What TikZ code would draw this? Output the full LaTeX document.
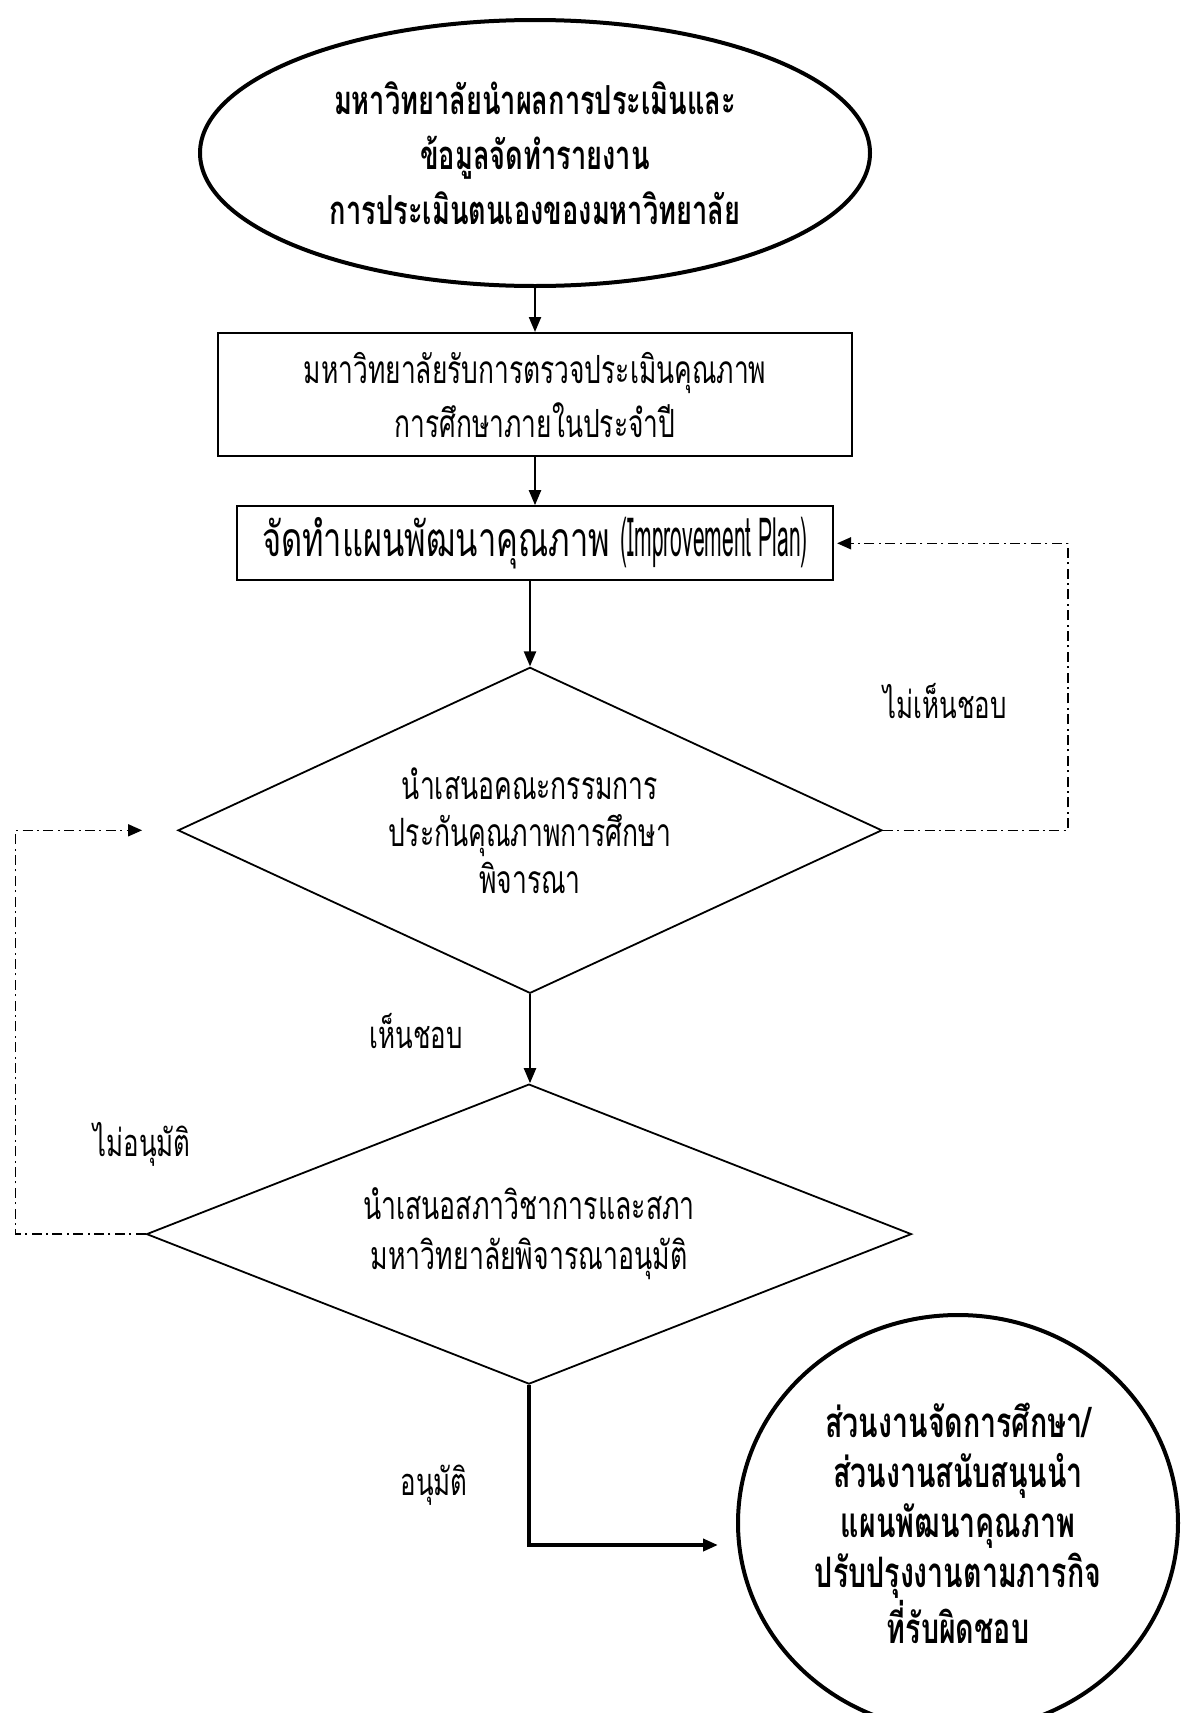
\documentclass[tikz,border=0pt]{standalone}
\usepackage{fontspec}
\usepackage{tikz}
\usetikzlibrary{positioning, calc, shapes.geometric, arrows.meta}
\newfontfamily\thaifont[Script=Thai, FakeStretch=0.68]{Loma}
\newfontfamily\planfont[FakeStretch=0.39]{Loma}
\tikzset{
    startnode/.style={
        ellipse, draw, line width=2pt, inner sep=0pt, align=center,
        font=\thaifont\bfseries\fontsize{20}{27.5}\selectfont
    },
    boxnode/.style={
        rectangle, draw, line width=1.1pt, inner sep=0pt, align=center,
        font=\thaifont\fontsize{19.4}{27}\selectfont
    },
    decnode/.style={
        diamond, draw, line width=0.9pt, inner sep=0pt, align=center,
        font=\thaifont\fontsize{19.5}{23.5}\selectfont
    },
    flow/.style={
        -{Triangle[length=7.5pt,width=6pt]}, line width=1.1pt
    },
    loopline/.style={
        -{Triangle[length=7pt,width=6pt]}, line width=0.8pt,
        dash pattern=on 5pt off 2.2pt on 1pt off 2.2pt
    },
    labeltext/.style={
        font=\thaifont\fontsize{19}{24}\selectfont, inner sep=0pt
    }
}
\begin{document}
\begin{tikzpicture}[x=0.5pt, y=-0.5pt]
    \useasboundingbox (0,0) rectangle (1186,1713);

    % --- main chain ---
    \node[startnode, minimum width=335pt, minimum height=133pt] (start) at (535,153)
        {มหาวิทยาลัยนำผลการประเมินและ\\ข้อมูลจัดทำรายงาน\\การประเมินตนเองของมหาวิทยาลัย};
    \node[boxnode, minimum width=317pt, minimum height=61.5pt, below=22pt of start] (check)
        {มหาวิทยาลัยรับการตรวจประเมินคุณภาพ\\การศึกษาภายในประจำปี};
    \node[boxnode, minimum width=298pt, minimum height=37pt, below=24pt of check,
          font=\thaifont\fontsize{24}{27}\selectfont] (plan)
        {จัดทำแผนพัฒนาคุณภาพ {\planfont\fontsize{27}{27}\selectfont(Improvement Plan)}};
    \node[decnode, aspect=2.16, minimum width=352pt, minimum height=163pt,
          below=42.5pt of plan, xshift=-2.5pt] (committee)
        {นำเสนอคณะกรรมการ\\ประกันคุณภาพการศึกษา\\พิจารณา};
    \node[decnode, aspect=2.55, minimum width=382.5pt, minimum height=150pt,
          below=44.5pt of committee, xshift=-0.5pt,
          font=\thaifont\fontsize{19.6}{25}\selectfont] (council)
        {นำเสนอสภาวิชาการและสภา\\มหาวิทยาลัยพิจารณาอนุมัติ};
    \node[startnode, minimum width=220pt, minimum height=208pt,
          font=\thaifont\bfseries\fontsize{21}{25}\selectfont] (finish) at (958,1523)
        {ส่วนงานจัดการศึกษา/\\ส่วนงานสนับสนุนนำ\\แผนพัฒนาคุณภาพ\\ปรับปรุงงานตามภารกิจ\\ที่รับผิดชอบ};

    % --- labels ---
    \node[labeltext] (lblreject) at (945,701) {ไม่เห็นชอบ};
    \node[labeltext] (lblagree) at (416,1031) {เห็นชอบ};
    \node[labeltext] (lbldeny) at (142,1144) {ไม่อนุมัติ};
    \node[labeltext] (lblapprove) at (434,1485) {อนุมัติ};

    % --- connectors ---
    \draw[flow] (start) -- (check);
    \draw[flow] (check) -- (plan);
    \draw[flow] (plan.south -| committee.north) -- (committee.north);
    \draw[flow] (committee.south) -- (council.north -| committee.south);
    \draw[flow, line width=2pt] (council.south) |- ([xshift=-9pt, yshift=-11pt]finish.west);
    \draw[loopline] (committee.east) -- ++(92.5pt,0) |- ([xshift=1.5pt]plan.east);
    \draw[loopline] (council.west) -- ++(-65pt,0) |- ([xshift=-17.5pt]committee.west);
\end{tikzpicture}
\end{document}
